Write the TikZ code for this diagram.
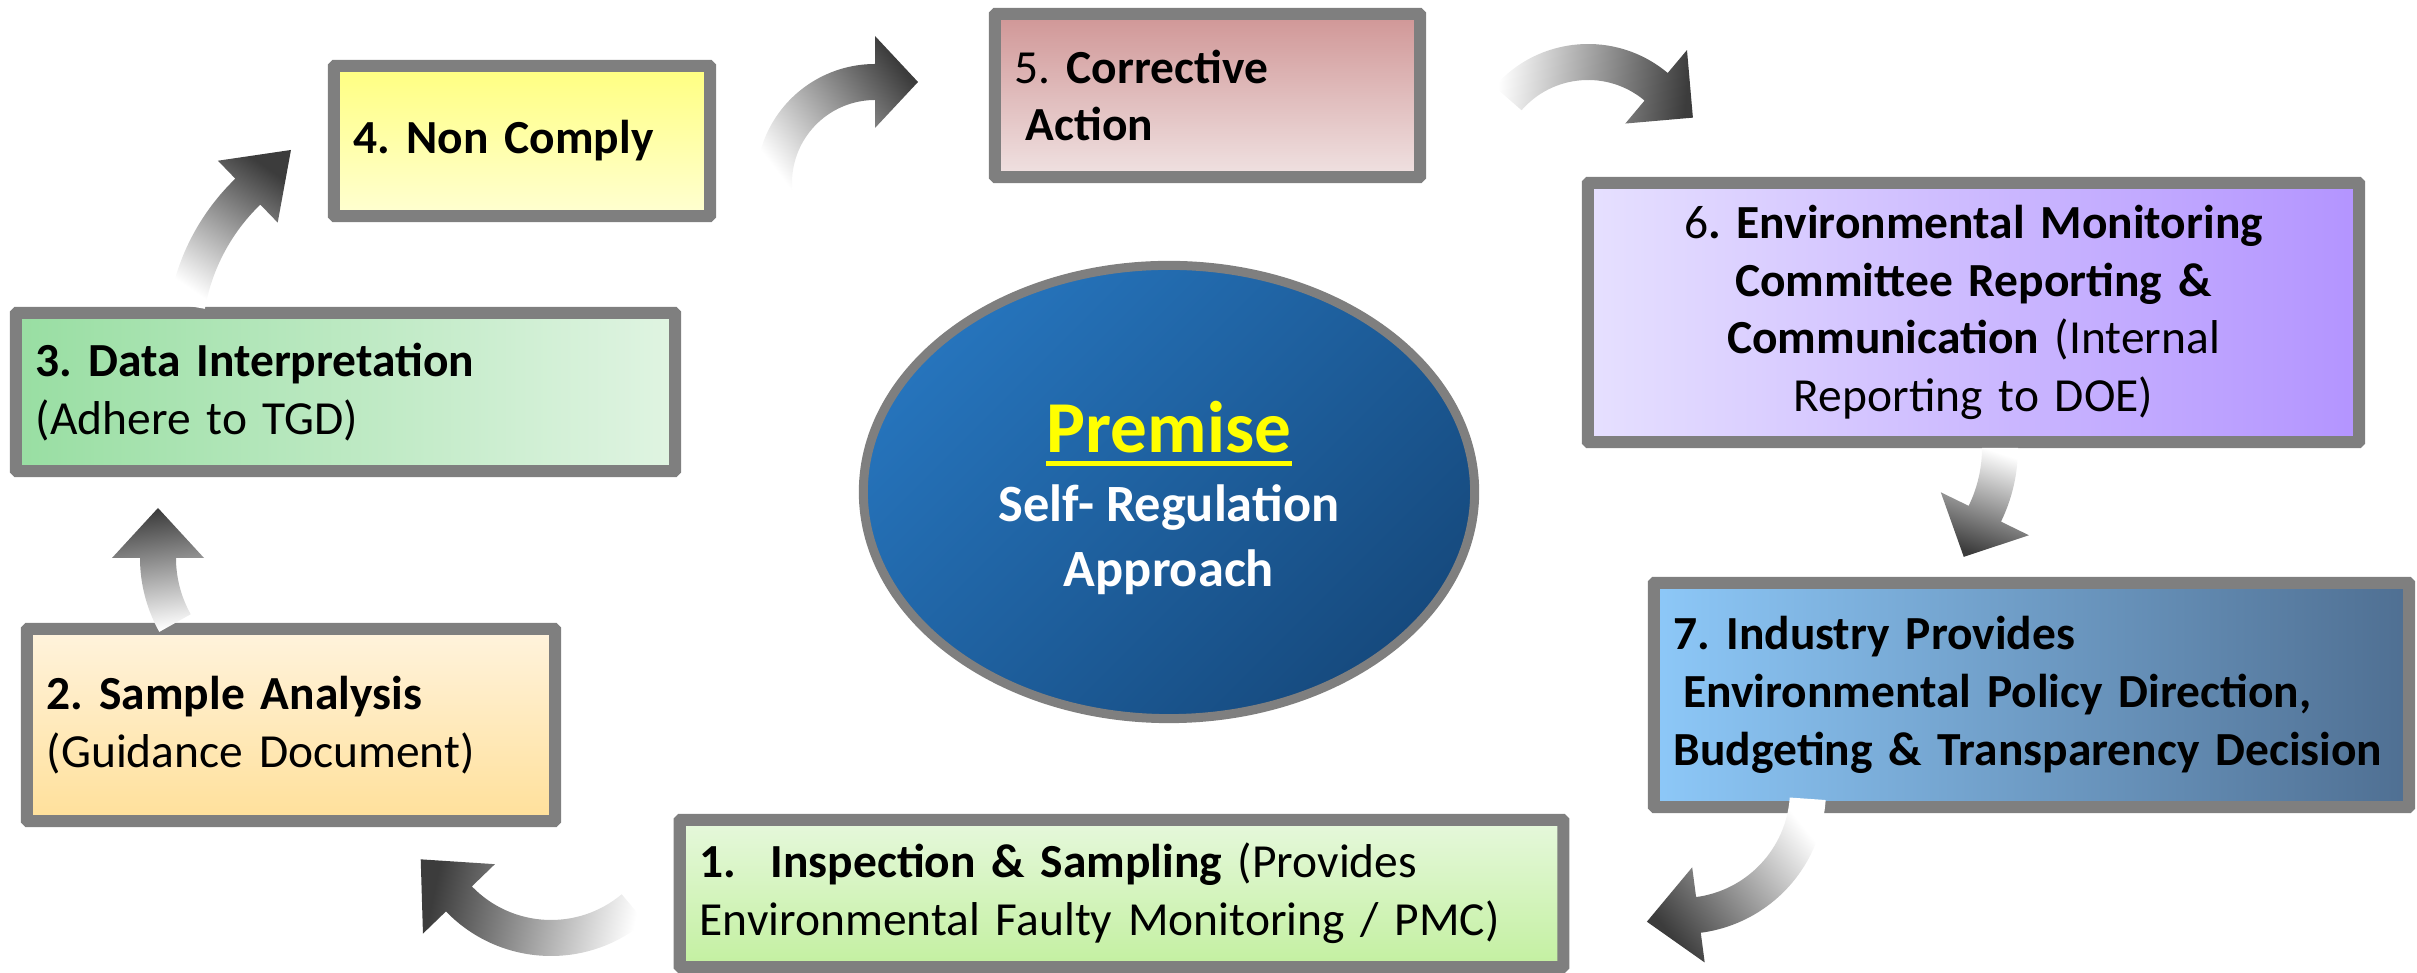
\documentclass[tikz,border=0pt]{standalone}
\usepackage{fontspec}
\setmainfont{Carlito}
\usetikzlibrary{shapes.geometric,calc}
\frenchspacing
\definecolor{bordergray}{RGB}{127,127,127}
\definecolor{arrowdark}{RGB}{60,60,60}
\definecolor{bonetop}{RGB}{230,248,220}
\definecolor{bonebot}{RGB}{195,240,160}
\definecolor{btwotop}{RGB}{255,243,221}
\definecolor{btwobot}{RGB}{255,224,154}
\definecolor{bthreel}{RGB}{152,222,162}
\definecolor{bthreer}{RGB}{224,244,226}
\definecolor{bfourtop}{RGB}{255,255,128}
\definecolor{bfourbot}{RGB}{255,255,210}
\definecolor{bfivetop}{RGB}{208,150,150}
\definecolor{bfivebot}{RGB}{240,226,226}
\definecolor{bsixl}{RGB}{230,224,255}
\definecolor{bsixr}{RGB}{179,148,255}
\definecolor{bsevenl}{RGB}{141,200,248}
\definecolor{bsevenr}{RGB}{79,111,146}
\definecolor{elltop}{RGB}{38,116,188}
\definecolor{ellbot}{RGB}{22,74,126}
\definecolor{premyellow}{RGB}{255,255,0}
\newcommand{\boxfont}{\fontsize{13.5}{16.4}\selectfont\frenchspacing}
\tikzset{
  procbox/.style={draw=bordergray, line width=0.12cm, rounded corners=0.01cm,
    inner xsep=0.2cm, inner ysep=0cm, align=left, font=\boxfont, text=black},
  elltext/.style={anchor=base, inner sep=0pt, text=white,
    font=\fontsize{14.9}{18}\selectfont\bfseries},
}
% #1 cx, #2 cy (pixel, y down), #3 R, #4 phi start, #5 phi end, #6 head half width, #7 head length, #8 shading angle, #9 name
\newcommand{\cyclearrow}[9]{%
  \coordinate (#9c) at (#1, 973-#2);
  \shade[top color=white, bottom color=arrowdark, shading angle=#8]
    ($(#9c)+({-#4}:{#3+18})$) arc[start angle={-#4}, end angle={-#5}, radius={#3+18}]
    -- ($(#9c)+({-#5}:{#3+#6})$)
    -- ($(#9c)+({-#5}:{#3})+({-#5-90}:{#7})$) coordinate (#9tip)
    -- ($(#9c)+({-#5}:{#3-#6})$)
    -- ($(#9c)+({-#5}:{#3-18})$)
    arc[start angle={-#5}, end angle={-#4}, radius={#3-18}]
    -- cycle;
}
\begin{document}
\begin{tikzpicture}[x=0.01cm,y=0.01cm]
\useasboundingbox (0,0) rectangle (2417,973);

% boxes
\node[procbox, top color=bonetop, bottom color=bonebot, text width=8.43cm, minimum height=1.47cm] (s1) at (1121.5,79.5)
  {\textbf{1.\hspace{0.72em}Inspection \& Sampling} (Provides\\Environmental Faulty Monitoring / PMC)};
\node[procbox, top color=btwotop, bottom color=btwobot, text width=4.88cm, minimum height=1.92cm] (s2) at (291,248)
  {\textbf{2. Sample Analysis}\\(Guidance Document)};
\node[procbox, left color=bthreel, right color=bthreer, text width=6.19cm, minimum height=1.58cm] (s3) at (345.5,581)
  {\textbf{3. Data Interpretation}\\(Adhere to TGD)};
\node[procbox, top color=bfourtop, bottom color=bfourbot, text width=3.36cm, minimum height=1.50cm] (s4) at (522,832)
  {\textbf{4. Non Comply}};
\node[procbox, top color=bfivetop, bottom color=bfivebot, text width=3.85cm, minimum height=1.63cm] (s5) at (1207.5,877.5)
  {5. \textbf{Corrective}\\\hspace{0.23em}\textbf{Action}};
\node[procbox, left color=bsixl, right color=bsixr, text width=7.31cm, minimum height=2.59cm, align=center] (s6) at (1973.5,660.5)
  {6\textbf{. Environmental Monitoring}\\\textbf{Committee Reporting \&}\\\textbf{Communication} (Internal\\Reporting to DOE)};
\node[procbox, left color=bsevenl, right color=bsevenr, text width=7.15cm, minimum height=2.24cm] (s7) at (2031.5,278)
  {\textbf{7. Industry Provides}\\\hspace{0.2em}\textbf{Environmental Policy Direction,}\\\textbf{Budgeting \& Transparency Decision}};

% centre ellipse
\node[ellipse, draw=bordergray, line width=0.09cm, top color=elltop, bottom color=ellbot, shading angle=45,
  minimum width=6.11cm, minimum height=4.53cm, inner sep=0pt] (premise) at (1169,481) {};
\node[anchor=base, inner sep=0pt, text=premyellow, font=\fontsize{20.8}{25}\selectfont\bfseries] (premtitle) at (1169,520) {Premise};
\draw[premyellow, line width=0.05cm] ([yshift=-0.11cm]premtitle.base west) -- ([yshift=-0.11cm]premtitle.base east);
\node[elltext] (selfreg) at (1169,451) {Self- Regulation};
\node[elltext] (approach) at (1169,386) {Approach};

% cycle arrows
\cyclearrow{291}{558}{133}{150.7}{180}{46}{50}{-172}{arrA}
\cyclearrow{393}{342}{209}{190}{226}{43}{60}{145.5}{arrB}
\cyclearrow{875}{183}{101}{175}{270}{46}{43}{127.4}{arrC}
\cyclearrow{1588}{168}{106}{221}{310}{48}{48}{84}{arrD}
\cyclearrow{1850}{448}{150}{0}{26}{49}{48}{-18.3}{arrE}
\cyclearrow{1682}{790}{126}{4}{82.5}{48}{52}{-51.3}{arrF}
\cyclearrow{551}{810}{128}{50}{136}{50}{55}{-102.1}{arrG}
\end{tikzpicture}
\end{document}
